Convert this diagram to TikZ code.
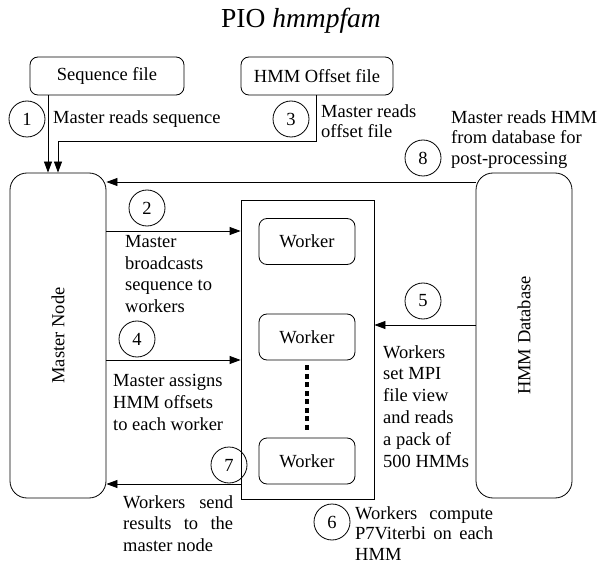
\documentclass[tikz,border=0pt]{standalone}
\usepackage{fontspec}
\setmainfont{Liberation Serif}
\usetikzlibrary{arrows.meta}
\begin{document}
\begin{tikzpicture}[x=1pt,y=-1pt,
  every node/.style={font=\fontsize{18.5}{21.8}\selectfont},
  rbox/.style={draw, rounded corners=8pt, line width=0.8pt, inner sep=0pt},
  bigbox/.style={draw, rounded corners=17pt, line width=0.8pt, inner sep=0pt, minimum width=96pt, minimum height=325pt},
  wbox/.style={rbox, minimum width=96pt, minimum height=46pt},
  num/.style={draw, circle, minimum size=36pt, inner sep=0pt, line width=0.8pt},
  lbl/.style={anchor=north west, align=left, inner sep=0pt},
  tight/.style={font=\fontsize{18.5}{20.5}\selectfont},
  arr/.style={-{Triangle[length=11pt,width=8pt]}, line width=0.8pt}]
\useasboundingbox (0,0) rectangle (603,567);

% title
\node[font=\fontsize{27.5}{32}\selectfont] (title) at (301,21) {PIO \textit{hmmpfam}};

% file boxes
\node[rbox, minimum width=154pt, minimum height=38pt] (seq) at (107,76) {Sequence file};
\node[rbox, minimum width=152pt, minimum height=38pt] (off) at (317,76) {HMM Offset file};

% big nodes
\node[bigbox, label={[rotate=90]center:Master Node}] (master) at (58,335.5) {};
\node[bigbox, label={[rotate=90]center:HMM Database}] (db) at (524,335.5) {};

% worker container
\node[draw, line width=0.8pt, minimum width=133pt, minimum height=299pt, inner sep=0pt] (cont) at (307.5,349.5) {};
\node[wbox] (w1) at (307,241.5) {Worker};
\node[wbox] (w2) at (307,337) {Worker};
\node[wbox] (w3) at (307,461) {Worker};
\draw[line width=3.5pt, dash pattern=on 5pt off 3.5pt, shorten <=5pt, shorten >=6pt] (w2.south) -- (w3.north);

% helper coordinates
\coordinate (a1) at (48,0);
\coordinate (k3) at (316,141);
\coordinate (k3b) at (58,141);
\coordinate (r8) at (0,182);
\coordinate (r2) at (0,231);
\coordinate (r4) at (0,360);
\coordinate (r5) at (0,325);
\coordinate (r7) at (0,484);

% connectors
\draw[arr] (seq.south -| a1) -- (master.north -| a1);
\draw[arr] (off.south -| k3) -- (k3) -- (k3b) -- (master.north -| k3b);
\draw[arr] (db.west |- r8) -- (master.east |- r8);
\draw[arr] (master.east |- r2) -- (cont.west |- r2);
\draw[arr] (master.east |- r4) -- (cont.west |- r4);
\draw[arr] (db.west |- r5) -- (cont.east |- r5);
\draw[arr] (cont.west |- r7) -- (master.east |- r7);

% step numbers
\node[num] (n1) at (27,119) {1};
\node[num] (n3) at (291,119) {3};
\node[num] (n8) at (423,158) {8};
\node[num] (n2) at (147,208) {2};
\node[num] (n4) at (137,339) {4};
\node[num] (n5) at (423,301) {5};
\node[num] (n7) at (229,465) {7};
\node[num] (n6) at (332,522) {6};

% labels
\node[lbl] (t1) at (53,110) {Master reads sequence};
\node[lbl, tight] (t3) at (321,104) {Master reads\\offset file};
\node[lbl, tight] (t8) at (451,110) {Master reads HMM\\from database for\\post-processing};
\node[lbl] (t2) at (125,235) {Master\\broadcasts\\sequence to\\workers};
\node[lbl] (t4) at (113,374) {Master assigns\\HMM offsets\\to each worker};
\node[lbl] (t5) at (383,345) {Workers\\set MPI\\file view\\and reads\\a pack of\\500 HMMs};
\node[lbl] (t7) at (123,495) {\makebox[110pt][s]{Workers send}\\\makebox[110pt][s]{results to the}\\master node};
\node[lbl, tight] (t6) at (355,506) {\makebox[138pt][s]{Workers compute}\\\makebox[138pt][s]{P7Viterbi on each}\\HMM};
\end{tikzpicture}
\end{document}
